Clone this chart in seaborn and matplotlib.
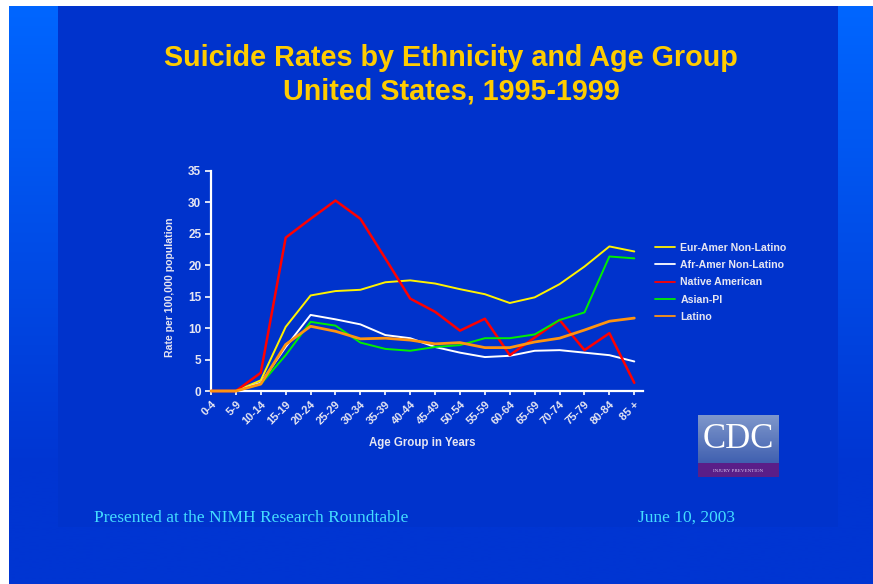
import matplotlib
matplotlib.use("Agg")
import matplotlib.pyplot as plt
import numpy as np
import pandas as pd
import seaborn as sns
from matplotlib.lines import Line2D
from matplotlib.patches import Rectangle

# Data
ages = ["0-4", "5-9", "10-14", "15-19", "20-24", "25-29", "30-34", "35-39", "40-44",
        "45-49", "50-54", "55-59", "60-64", "65-69", "70-74", "75-79", "80-84", "85 +"]
eur_amer = [0, 0, 1.7, 10.2, 15.2, 15.9, 16.1, 17.3, 17.6, 17.1, 16.2, 15.4, 14.0, 14.9, 17.0, 19.8, 23.0, 22.2]
afr_amer = [0, 0, 1.3, 7.0, 12.1, 11.4, 10.6, 8.9, 8.4, 7.0, 6.1, 5.4, 5.6, 6.4, 6.5, 6.1, 5.7, 4.7]
native_amer = [0, 0, 2.9, 24.4, 27.4, 30.3, 27.4, 21.1, 14.7, 12.6, 9.6, 11.5, 5.7, 8.5, 11.3, 6.5, 9.2, 1.3]
asian_pi = [0, 0, 1.1, 5.7, 11.0, 10.4, 7.7, 6.7, 6.4, 7.0, 7.3, 8.4, 8.4, 9.0, 11.3, 12.5, 21.4, 21.1]
latino = [0, 0, 1.1, 7.4, 10.3, 9.5, 8.3, 8.4, 8.1, 7.5, 7.7, 6.9, 6.9, 7.8, 8.4, 9.7, 11.1, 11.6]

series = {
    "Eur-Amer Non-Latino": eur_amer,
    "Afr-Amer Non-Latino": afr_amer,
    "Native American": native_amer,
    "Asian-PI": asian_pi,
    "Latino": latino,
}
colors = {
    "Eur-Amer Non-Latino": "#FFF200",
    "Afr-Amer Non-Latino": "#FFFFFF",
    "Native American": "#FF0000",
    "Asian-PI": "#00EE00",
    "Latino": "#FF9410",
}
widths = {
    "Eur-Amer Non-Latino": 1.4,
    "Afr-Amer Non-Latino": 1.4,
    "Native American": 1.8,
    "Asian-PI": 1.4,
    "Latino": 2.0,
}

df = pd.DataFrame(series)
df["pos"] = np.arange(len(ages))
long_df = df.melt(id_vars="pos", var_name="group", value_name="rate")

sns.set_theme(style="ticks")
plt.rcParams["font.family"] = ["Liberation Sans", "DejaVu Sans"]

W, H = 873, 584
fig = plt.figure(figsize=(W / 100, H / 100), dpi=100)
fig.patch.set_facecolor("white")

# slide background: gradient frame, flat panel in the middle
bg = fig.add_axes([0, 0, 1, 1])
bg.axis("off")
dark = np.array([0x00, 0x33, 0xCC]) / 255
light = np.array([0x00, 0x66, 0xFF]) / 255
bottom = np.array([0x00, 0x35, 0xD2]) / 255
t = np.clip(np.linspace(0, 1, 200) / 0.8, 0, 1)[:, None]
grad = (light * (1 - t) + bottom * t)[:, None, :]
bg.imshow(grad, extent=(9, W, H, 6), aspect="auto", interpolation="bilinear", zorder=1)
bg.add_patch(Rectangle((58, 6), 780, 521, color=dark, lw=0, zorder=2))
bg.set_xlim(0, W)
bg.set_ylim(H, 0)

# CDC logo
logo = fig.add_axes([698 / W, 1 - 477 / H, 81 / W, 62 / H])
logo.axis("off")
lg = np.linspace(0, 1, 100)[:, None]
top_c = np.array([0x80, 0x98, 0xCC]) / 255
bot_c = np.array([0x40, 0x60, 0xB0]) / 255
logo.imshow((top_c * (1 - lg) + bot_c * lg)[:, None, :], extent=(0, 1, 0.22, 1),
            aspect="auto", interpolation="bilinear")
logo.add_patch(Rectangle((0, 0), 1, 0.22, color="#5A1E88", lw=0))
logo.text(0.5, 0.6, "CDC", color="white", fontsize=25, ha="center", va="center",
          family=["Liberation Serif"])
logo.text(0.5, 0.1, "INJURY PREVENTION", color="#D8C8F0", fontsize=3.6, ha="center",
          va="center", family=["Liberation Serif"])
logo.set_xlim(0, 1)
logo.set_ylim(0, 1)

# chart
ax = fig.add_axes([211 / W, 1 - 391 / H, 432 / W, 220 / H])
ax.set_facecolor("none")
for name in series:
    sns.lineplot(data=long_df[long_df["group"] == name], x="pos", y="rate", ax=ax,
                 color=colors[name], lw=widths[name], legend=False, zorder=3, clip_on=False)

ax.set_xlim(0, len(ages) - 1 + 0.35)
ax.set_ylim(0, 35)
ax.set_yticks(range(0, 36, 5))
ax.set_xticks(range(len(ages)))
ax.set_xticklabels(ages, rotation=45, ha="right", rotation_mode="anchor")
txt_c = "#E6E6F2"
ax.tick_params(axis="y", colors="white", labelcolor=txt_c, labelsize=8.5, length=4, width=1.2, pad=3)
ax.tick_params(axis="x", colors="white", labelcolor=txt_c, labelsize=8, length=3, width=1.2, pad=3)
for lab in ax.get_xticklabels() + ax.get_yticklabels():
    lab.set_fontweight("bold")
for side in ["top", "right"]:
    ax.spines[side].set_visible(False)
for side in ["left", "bottom"]:
    ax.spines[side].set_color("white")
    ax.spines[side].set_linewidth(1.6)
ax.set_xlabel("")
ax.set_ylabel("")

fig.text(170 / W, 1 - 287 / H, "Rate per 100,000 population", rotation=90, color=txt_c,
         fontsize=7.6, fontweight="bold", ha="center", va="center")
fig.text(422 / W, 1 - 443 / H, "Age Group in Years", color=txt_c, fontsize=8.3,
         fontweight="bold", ha="center", va="center")

handles = [Line2D([], [], color=colors[n], lw=1.3) for n in series]
fig.legend(handles, list(series), loc="upper left", bbox_to_anchor=(655 / W, 1 - 243 / H),
           frameon=False, labelcolor=txt_c, handlelength=1.9, handletextpad=0.5,
           labelspacing=0.68, borderpad=0, borderaxespad=0,
           prop={"weight": "bold", "size": 7.6})

fig.text(451 / W, 1 - 58 / H, "Suicide Rates by Ethnicity and Age Group", color="#FFCC00",
         fontsize=20.7, fontweight="bold", ha="center", va="center")
fig.text(451 / W, 1 - 91 / H, "United States, 1995-1999", color="#FFCC00",
         fontsize=20.7, fontweight="bold", ha="center", va="center")

fig.text(94 / W, 1 - 518 / H, "Presented at the NIMH Research Roundtable", color="#44DDFF",
         fontsize=12.5, ha="left", va="center", family=["Liberation Serif"])
fig.text(638 / W, 1 - 518 / H, "June 10, 2003", color="#44DDFF",
         fontsize=12.5, ha="left", va="center", family=["Liberation Serif"])

fig.savefig("out.png", dpi=100)
